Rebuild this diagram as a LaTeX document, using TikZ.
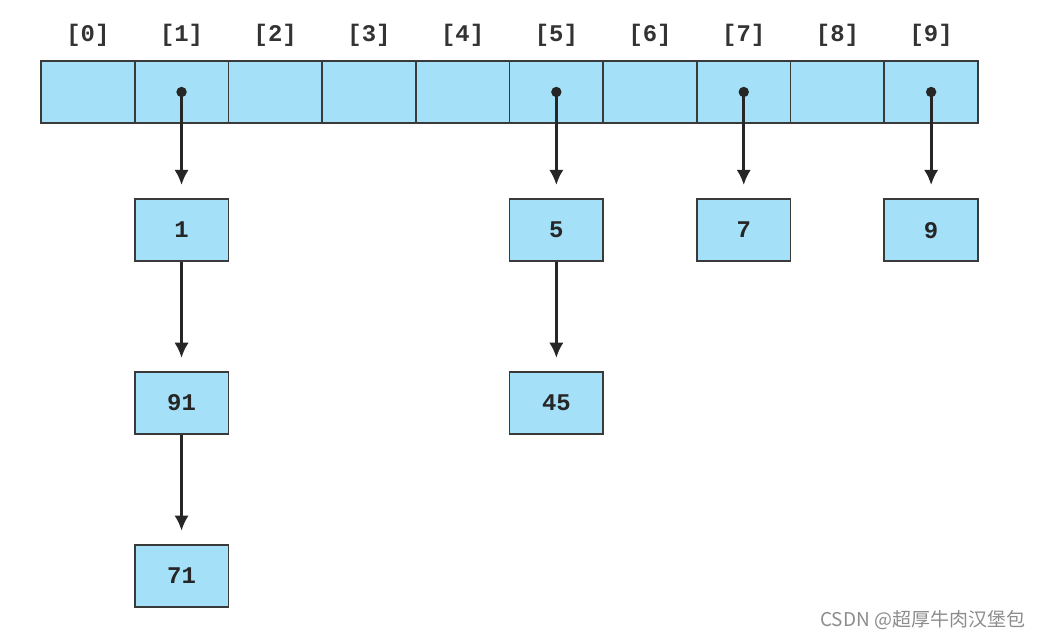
\documentclass[tikz,border=0pt]{standalone}
\usepackage{fontspec}
\setmonofont{Liberation Mono}
\newfontfamily\cjk{Noto Sans CJK SC}
\usetikzlibrary{positioning, arrows.meta}
\definecolor{cellblue}{HTML}{A4E0F8}
\definecolor{edgegray}{HTML}{3A3A3A}

\begin{document}
\begin{tikzpicture}[x=0.025cm, y=-0.025cm, node distance=4.32cm,
	cell/.style={rectangle, draw=edgegray, fill=cellblue, line width=1.2pt, minimum width=2.3425cm, minimum height=1.55cm, inner sep=0pt, font=\ttfamily\bfseries\fontsize{17}{20}\selectfont, text=black!85},
	idx/.style={font=\ttfamily\bfseries\fontsize{17}{20}\selectfont, text=black!80, inner sep=0pt},
	ptr/.style={-{Latex[length=0.38cm, width=0.36cm]}, line width=2pt, draw=black!85, shorten >=0.33cm}]
	\useasboundingbox (0,0) rectangle (1047,638);
	% the array of buckets
	\foreach \i in {0,...,9} {
		\node[cell] (a\i) at (87.85+93.7*\i, 92) {};
		\node[idx] (l\i) at (87.85+93.7*\i, 35) {[\i]};
	}
	% the chains
	\node[cell] (n1) [below=1.86cm of a1] {1};
	\node[cell] (n91) [below of=n1] {91};
	\node[cell] (n71) [below of=n91] {71};
	\node[cell] (n5) [below=1.86cm of a5] {5};
	\node[cell] (n45) [below of=n5] {45};
	\node[cell] (n7) [below=1.86cm of a7] {7};
	\node[cell] (n9) [below=1.86cm of a9] {9};
	\foreach \i in {1,5,7,9} {
		\fill[black!85] (a\i.center) circle (0.13cm);
		\draw[ptr] (a\i.center) -- (n\i);
	}
	\draw[ptr] (n1) -- (n91);
	\draw[ptr] (n91) -- (n71);
	\draw[ptr] (n5) -- (n45);
	\node[text=black!45, font=\cjk\fontsize{13.5}{16}\selectfont, anchor=east] (wm) at (1030,620) {CSDN @超厚牛肉汉堡包};
\end{tikzpicture}
\end{document}
